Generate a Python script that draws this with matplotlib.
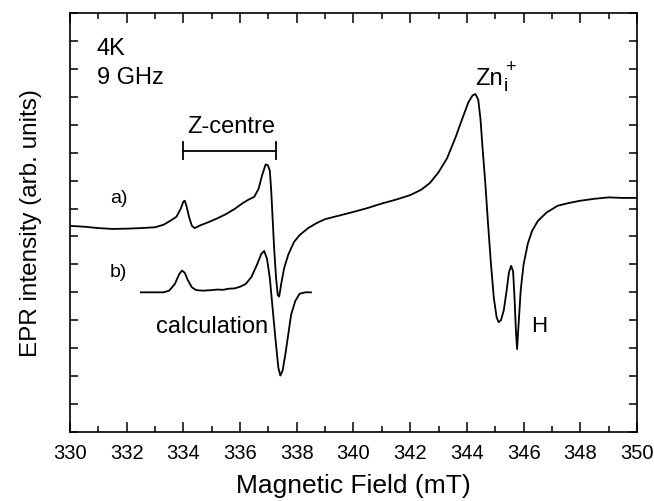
import matplotlib
matplotlib.use("Agg")
import matplotlib.pyplot as plt
from matplotlib.ticker import MultipleLocator

plt.rcParams["font.family"] = ["Liberation Sans", "DejaVu Sans"]

# measured spectrum a)
campo_a = [330.0, 330.5, 331.0, 331.5, 332.0, 332.5, 333.0, 333.3, 333.55, 333.75,
           333.9, 334.0, 334.05, 334.12, 334.2, 334.3, 334.4, 334.6, 334.9, 335.2,
           335.5, 335.8, 336.1, 336.3, 336.5, 336.65, 336.78, 336.9, 336.98, 337.05,
           337.1, 337.15, 337.2, 337.27, 337.33, 337.38, 337.45, 337.55, 337.7, 337.9,
           338.1, 338.4, 338.7, 339.0, 339.5, 340.0, 340.5, 341.0, 341.5, 342.0,
           342.4, 342.7, 343.0, 343.3, 343.6, 343.85, 344.05, 344.2, 344.3, 344.4,
           344.48, 344.55, 344.65, 344.75, 344.85, 344.95, 345.05, 345.12, 345.2, 345.3,
           345.4, 345.48, 345.56, 345.63, 345.68, 345.73, 345.77, 345.82, 345.9, 346.0,
           346.15, 346.3, 346.5, 346.8, 347.2, 347.6, 348.0, 348.5, 349.0, 349.5, 350.0]
sinal_a = [7.38, 7.35, 7.30, 7.27, 7.28, 7.30, 7.33, 7.42, 7.57, 7.70,
           7.98, 8.25, 8.28, 8.05, 7.70, 7.38, 7.30, 7.40, 7.52, 7.65,
           7.80, 7.98, 8.20, 8.32, 8.42, 8.70, 9.20, 9.58, 9.55, 9.35,
           8.6, 7.6, 6.6, 5.5, 4.9, 4.85, 5.3, 5.85, 6.35, 6.80,
           7.05, 7.30, 7.48, 7.62, 7.75, 7.88, 8.02, 8.18, 8.32, 8.48,
           8.68, 8.92, 9.3, 9.8, 10.55, 11.25, 11.8, 12.05, 12.1, 11.9,
           11.2, 10.2, 8.9, 7.4, 6.0, 4.8, 4.1, 3.93, 4.0, 4.35,
           5.05, 5.7, 5.95, 5.75, 4.8, 3.6, 2.97, 3.8, 5.1, 6.0,
           6.75, 7.2, 7.55, 7.85, 8.1, 8.2, 8.28, 8.35, 8.4, 8.38, 8.38]

# calculated spectrum b)
campo_b = [332.5, 333.3, 333.5, 333.7, 333.85, 333.95, 334.05, 334.15, 334.3, 334.45,
           334.7, 335.0, 335.2, 335.4, 335.6, 335.8, 336.0, 336.2, 336.4, 336.6,
           336.75, 336.85, 336.95, 337.05, 337.15, 337.25, 337.35, 337.42, 337.5, 337.6,
           337.7, 337.8, 337.95, 338.1, 338.3, 338.5]
sinal_b = [5.0, 5.0, 5.06, 5.3, 5.65, 5.78, 5.7, 5.45, 5.18, 5.08,
           5.06, 5.08, 5.10, 5.09, 5.13, 5.14, 5.20, 5.30, 5.55, 6.0,
           6.38, 6.48, 6.2, 5.5, 4.4, 3.3, 2.3, 2.02, 2.2, 2.8,
           3.5, 4.2, 4.7, 4.95, 5.0, 5.0]

# Z-centre bracket ends
z_inicio, z_fim = 334.0, 337.25

fig = plt.figure(figsize=(6.54, 5.02), dpi=100)
ax = fig.add_axes([0.107, 0.1375, 0.867, 0.8345])

ax.plot(campo_a, sinal_a, color="black", lw=1.3)
ax.plot(campo_b, sinal_b, color="black", lw=1.3)

ax.set_xlim(330, 350)
ax.set_ylim(0, 15)
ax.xaxis.set_major_locator(MultipleLocator(2))
ax.xaxis.set_minor_locator(MultipleLocator(1))
ax.yaxis.set_major_locator(MultipleLocator(1))
ax.set_yticklabels([])
ax.tick_params(direction="in", top=True, right=True, width=1.1)
ax.tick_params(axis="x", which="major", length=7, labelsize=14.5, pad=8)
ax.tick_params(axis="x", which="minor", length=4, width=1.1, top=True, direction="in")
ax.tick_params(axis="y", which="major", length=6)
for s in ax.spines.values():
    s.set_linewidth(1.2)

ax.set_xlabel("Magnetic Field (mT)", fontsize=19, labelpad=8)
ax.set_ylabel("EPR intensity (arb. units)", fontsize=17.5, labelpad=17)

ax.text(330.95, 13.75, "4K", fontsize=17, va="center")
ax.text(330.95, 12.7, "9 GHz", fontsize=17, va="center")
ax.text(331.4, 8.4, "a)", fontsize=14, va="center")
ax.text(331.4, 5.73, "b)", fontsize=14, va="center")
ax.text(335.0, 3.8, "calculation", fontsize=17, ha="center", va="center")
ax.text(344.3, 12.46, "Zn", fontsize=17, va="baseline")
ax.text(345.36, 12.41, "i", fontsize=14, ha="center", va="center")
ax.text(345.52, 13.09, "+", fontsize=13, ha="center", va="center")
ax.text(346.25, 3.8, "H", fontsize=16, va="center")

ax.plot([z_inicio, z_fim], [10.07, 10.07], color="black", lw=1.3)
ax.plot([z_inicio, z_inicio], [9.77, 10.37], color="black", lw=1.3)
ax.plot([z_fim, z_fim], [9.77, 10.37], color="black", lw=1.3)
ax.text(335.7, 10.95, "Z-centre", fontsize=17, ha="center", va="center")

fig.savefig("out.png", dpi=100)
